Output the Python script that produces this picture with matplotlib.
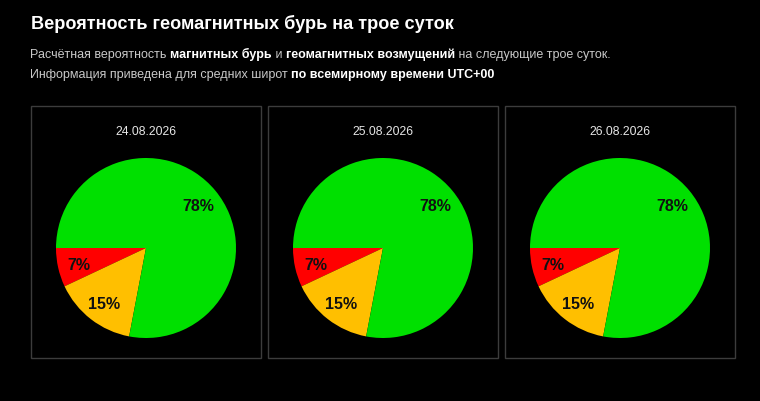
import matplotlib
matplotlib.use("Agg")
import matplotlib.pyplot as plt
from matplotlib.patches import Rectangle

plt.rcParams['font.family'] = ['Liberation Sans', 'DejaVu Sans']

# данные
dates = ["24.08.2026", "25.08.2026", "26.08.2026"]
storm = [7, 7, 7]          # магнитные бури
disturb = [15, 15, 15]     # геомагнитные возмущения
calm = [78, 78, 78]        # спокойно
colors = ["#ff0000", "#ffbf00", "#00e000"]

title = "Вероятность геомагнитных бурь на трое суток"
line1 = [("Расчётная вероятность ", False), ("магнитных бурь", True), (" и ", False),
         ("геомагнитных возмущений", True), (" на следующие трое суток.", False)]
line2 = [("Информация приведена для средних широт ", False), ("по всемирному времени UTC+00", True)]

W, H = 760, 402
fig = plt.figure(figsize=(W / 100, H / 100), dpi=100, facecolor="black")


def fx(px):
    return px / W


def fy(py):
    return 1 - py / H


fig.text(fx(31), fy(29), title, color="white", fontsize=13.1, fontweight="bold", va="baseline")

renderer = fig.canvas.get_renderer()


def rich_line(parts, y):
    x = fx(30)
    for s, bold in parts:
        t = fig.text(x, fy(y), s, fontsize=9.0, va="baseline",
                     color="white" if bold else "#c8c8c8",
                     fontweight="bold" if bold else "normal")
        bb = t.get_window_extent(renderer)
        x += bb.width / W


rich_line(line1, 58)
rich_line(line2, 78)

lefts = [31, 268, 505]
pw, top, bottom = 230, 107, 359
r = 90
for i, d in enumerate(dates):
    x0 = lefts[i]
    fig.patches.append(Rectangle((fx(x0), fy(bottom)), pw / W, (bottom - top) / H,
                                 transform=fig.transFigure, fill=False,
                                 edgecolor="#3c3c3c", linewidth=1))
    cx = x0 + pw / 2
    fig.text(fx(cx), fy(135), d, color="#e6e6e6", fontsize=8.7, ha="center", va="baseline")
    cy = 249
    ax = fig.add_axes([fx(cx - r), fy(cy + r), 2 * r / W, 2 * r / H])
    vals = [storm[i], disturb[i], calm[i]]
    wedges, texts, autotexts = ax.pie(vals, colors=colors, startangle=180, counterclock=True,
                                      autopct="%d%%", pctdistance=0.76,
                                      wedgeprops=dict(linewidth=0))
    for t in autotexts:
        t.set_fontsize(11.5)
        t.set_fontweight("bold")
        t.set_color("#111111")
        t.set_verticalalignment("center_baseline")
    ax.set_xlim(-1, 1)
    ax.set_ylim(-1, 1)
    ax.set_aspect("auto")
    ax.axis("off")

fig.savefig("out.png", dpi=100, facecolor="black")
